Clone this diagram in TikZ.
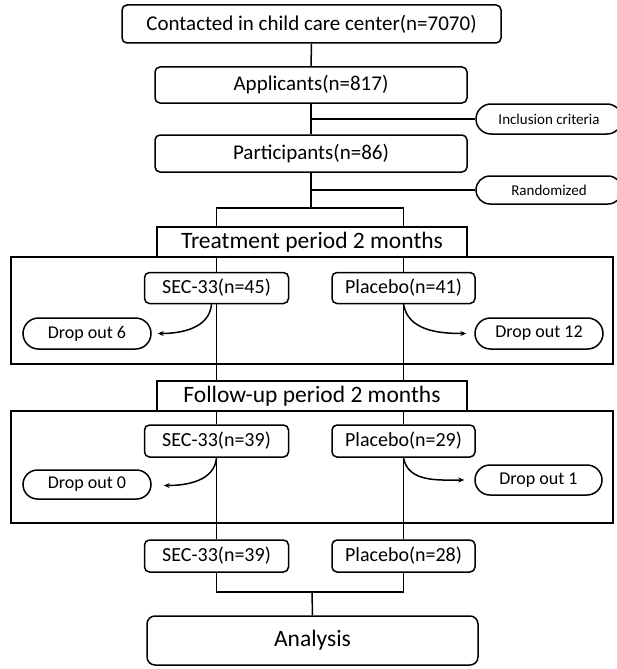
\documentclass[tikz,border=0pt]{standalone}
\usepackage{fontspec}
\setmainfont{Carlito}
\usetikzlibrary{arrows.meta,shapes.misc,backgrounds,positioning,calc}
\tikzset{every picture/.style={line width=1.5pt}}

\begin{document}
\begin{tikzpicture}[x=1pt, y=-1pt, line width=1.5pt, >={Stealth[length=6pt,width=5pt]},
    mainbox/.style={draw, line width=1.5pt, rounded corners=5pt, fill=white, inner sep=0pt,
        font=\fontsize{21}{25}\selectfont},
    armbox/.style={mainbox, minimum width=144pt, minimum height=31pt,
        font=\fontsize{20}{24}\selectfont},
    sidebox/.style={draw, line width=1.5pt, rounded rectangle, fill=white, inner sep=0pt,
        font=\fontsize{15}{18}\selectfont},
    dropbox/.style={draw, line width=1.5pt, rounded rectangle, fill=white, inner sep=0pt,
        minimum width=128pt, font=\fontsize{18}{21}\selectfont},
    phasebox/.style={draw, line width=1.5pt, fill=white, inner sep=0pt, minimum width=310pt,
        minimum height=30pt, font=\fontsize{23.5}{28}\selectfont}]
    \useasboundingbox (0,0) rectangle (617,669);

    % 招募与筛选
    \node[mainbox, minimum width=379pt, minimum height=38pt] (contact) at (311.5,24) {Contacted in child care center(n=7070)};
    \node[mainbox, minimum width=312pt, minimum height=36pt] (appl) at (311,85) {Applicants(n=817)};
    \node[mainbox, minimum width=312pt, minimum height=37pt] (part) at (311,153.5) {Participants(n=86)};
    \node[sidebox, minimum width=146pt, minimum height=30pt] (incl) at (549,119) {Inclusion criteria};
    \node[sidebox, minimum width=146pt, minimum height=28pt] (rand) at (549,190) {Randomized};
    \coordinate (split) at (311,208);

    % 治疗期
    \node[phasebox] (treat) at (312,242) {Treatment period 2 months};
    \draw (11,257) rectangle (613,364);
    \node[armbox] (sec1) at (216.5,288) {SEC-33(n=45)};
    \node[armbox, minimum width=143pt] (pla1) at (403.5,288) {Placebo(n=41)};
    \node[dropbox, minimum height=31pt] (drop6) at (87,333.5) {Drop out 6};
    \node[dropbox, minimum height=31pt] (drop12) at (539,333.5) {Drop out 12};

    % 随访期
    \node[phasebox] (follow) at (312,396) {Follow-up period 2 months};
    \draw (11,411) rectangle (613,523);
    \node[armbox, minimum height=32pt] (sec2) at (216.5,441) {SEC-33(n=39)};
    \node[armbox, minimum width=143pt, minimum height=32pt] (pla2) at (403.5,441) {Placebo(n=29)};
    \node[dropbox, minimum height=29pt] (drop0) at (87,484.5) {Drop out 0};
    \node[dropbox, minimum width=127pt, minimum height=30pt] (drop1) at (538.5,480) {Drop out 1};

    % 分析
    \node[armbox, minimum height=32pt] (sec3) at (216.5,556) {SEC-33(n=39)};
    \node[armbox, minimum width=143pt, minimum height=32pt] (pla3) at (403.5,556) {Placebo(n=28)};
    \coordinate (merge) at (312,592);
    \node[mainbox, rounded corners=8pt, minimum width=331pt, minimum height=49pt,
        font=\fontsize{23.5}{28}\selectfont] (anal) at (312.5,640.5) {Analysis};

    % 连线
    \begin{scope}[on background layer={line width=1.5pt}]
        \draw (contact) -- (appl);
        \draw (appl) -- (part);
        \draw (appl.south |- incl.west) -- (incl.west);
        \draw (part.south) -- (split);
        \draw (part.south |- rand.west) -- (rand.west);
        \draw (sec1.north) -- (sec1.north |- split) -- (pla1.north |- split) -- (pla1.north);
        \draw (sec1) -- (sec2);
        \draw (pla1) -- (pla2);
        \draw (sec2) -- (sec3);
        \draw (pla2) -- (pla3);
        \draw (sec3.south) |- (merge) -| (pla3.south);
        \draw (merge) -- (anal.north);
    \end{scope}

    % 退出
    \draw[->] ([xshift=-5pt]sec1.south) to[out=-95, in=0] ([xshift=6pt]drop6.east);
    \draw[->] (pla1.south) to[out=-80, in=180] ([xshift=-8pt]drop12.west);
    \draw[->] (sec2.south) to[out=-95, in=0] ([xshift=12pt, yshift=-1pt]drop0.east);
    \draw[->] (pla2.south) to[out=-80, in=180] ([xshift=-10pt]drop1.west);
\end{tikzpicture}
\end{document}
